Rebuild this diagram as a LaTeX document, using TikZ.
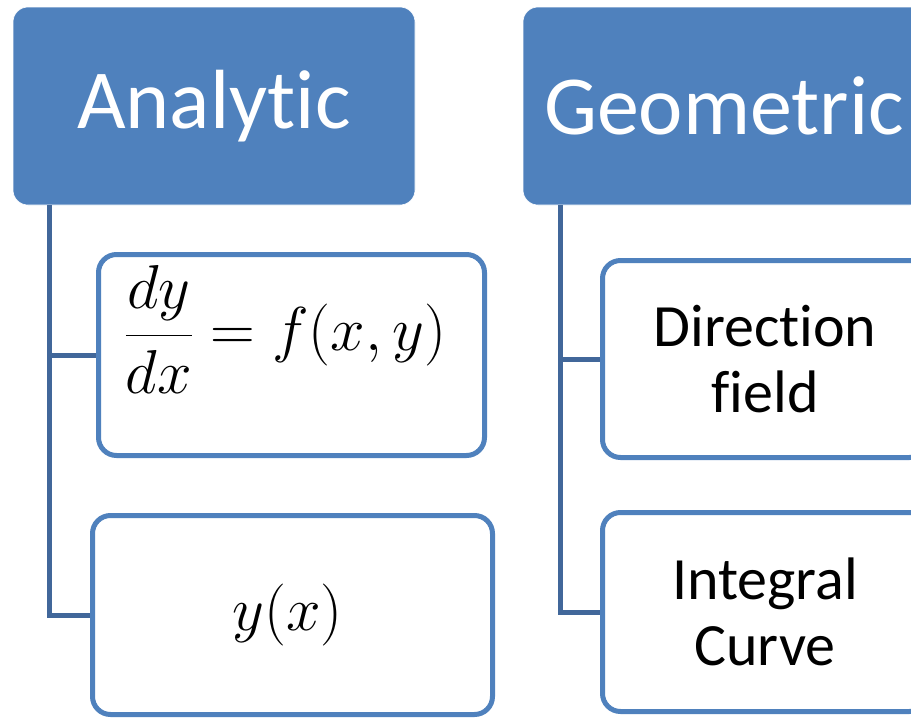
\RequirePackage{fix-cm}
\documentclass[tikz,border=0pt]{standalone}
\usepackage{fontspec}
\setmainfont{Carlito}[Ligatures=NoCommon]
\usetikzlibrary{positioning,calc}

\definecolor{headBlue}{HTML}{4F81BD}
\definecolor{trunkBlue}{HTML}{41679A}

\begin{document}
\begin{tikzpicture}[
    x=1pt, y=-1pt,
    headBox/.style={
        rectangle,
        fill=headBlue,
        draw=white,
        line width=0.6pt,
        rounded corners=15pt,
        text=white,
        align=center,
        inner sep=0pt,
        minimum width=402pt,
        minimum height=198pt,
        font=\fontsize{84pt}{90pt}\selectfont
    },
    itemBox/.style={
        rectangle,
        draw=headBlue,
        fill=white,
        line width=5pt,
        rounded corners=18pt,
        align=center,
        inner sep=0pt,
        font=\fontsize{60pt}{66pt}\selectfont
    },
    mathText/.style={
        font=\fontsize{62pt}{70pt}\selectfont
    },
    branchLine/.style={
        draw=trunkBlue,
        line width=5pt
    }
]

% ==================== FRAME ====================
\useasboundingbox (0,0) rectangle (911,718);
\clip (0,0) rectangle (911,718);

% ==================== HEADERS ====================
\node[headBox] (anaHead) at (214, 106) {Analytic};
\node[headBox] (geoHead) at (724, 106) {Geometric};

% Branch rails
\coordinate (anaRail) at ($(anaHead.south west)+(37,0)$);
\coordinate (geoRail) at ($(geoHead.south west)+(38,0)$);

% ==================== CHILD BOXES ====================
\node[itemBox, mathText, minimum width=386pt, minimum height=201pt] (anaEq) at (291.5, 355)
    {\hspace*{-12pt}\raisebox{94pt}{$\displaystyle\frac{dy}{dx} = f(x,y)$}};
\node[itemBox, mathText, minimum width=400pt, minimum height=199pt] (anaSol) at (292.5, 615)
    {\hspace*{-10pt}\raisebox{12pt}{$y(x)$}};
\node[itemBox, minimum width=325pt, minimum height=197pt] (geoField) at (765, 359)
    {Direction\\field};
\node[itemBox, minimum width=325pt, minimum height=199pt] (geoCurve) at (765, 612)
    {Integral\\Curve};

% ==================== CONNECTORS ====================
\draw[branchLine] (anaRail) |- (anaEq.west);
\draw[branchLine] (anaRail) |- (anaSol.west);
\draw[branchLine] (geoRail) |- (geoField.west);
\draw[branchLine] (geoRail) |- (geoCurve.west);

\end{tikzpicture}
\end{document}
